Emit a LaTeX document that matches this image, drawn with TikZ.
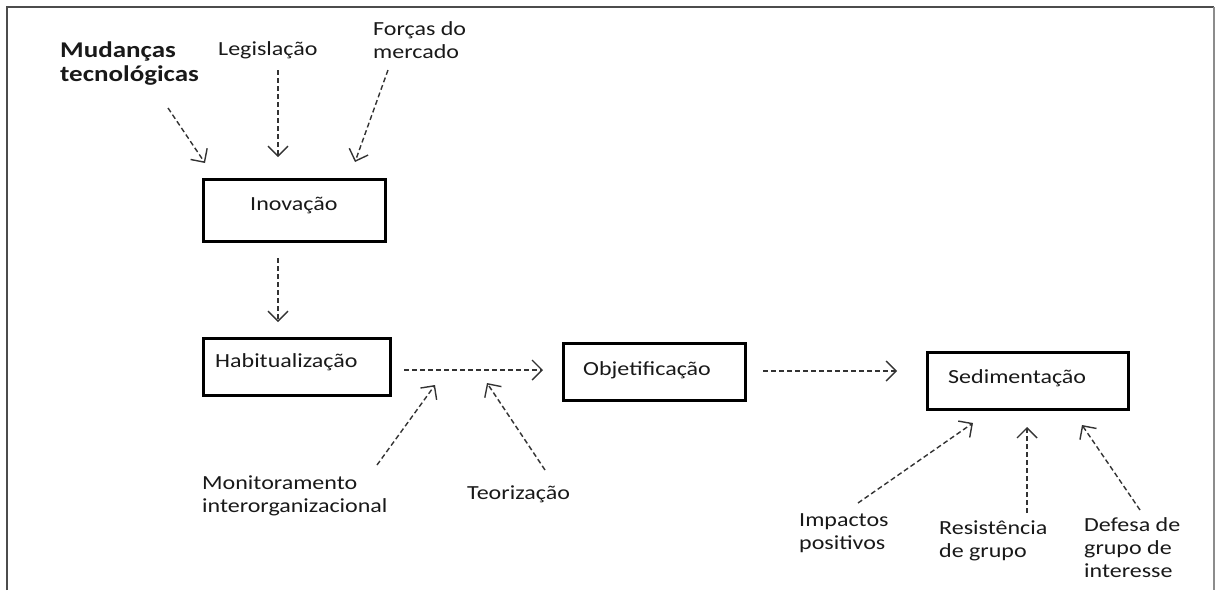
\documentclass[tikz,border=0pt]{standalone}
\usepackage{fontspec}
\setmainfont{Carlito}[FakeStretch=1.2]
\usetikzlibrary{arrows.meta}
\begin{document}
\begin{tikzpicture}[x=1pt,y=-1pt,
  box/.style={draw=black, line width=3pt, inner sep=0pt},
  lbl/.style={anchor=base west, inner sep=0pt, text=black!90, align=left,
              font=\fontsize{20}{23}\selectfont},
  biglbl/.style={anchor=base west, inner sep=0pt, text=black!90, align=left,
              font=\fontsize{22.5}{24}\selectfont\bfseries},
  flow/.style={draw=black!80, line width=1.4pt, dash pattern=on 5pt off 3pt,
              -{Straight Barb[length=10pt,width=20pt,line width=1.4pt]}}
]
\useasboundingbox (0,0) rectangle (1216,590);
% frame
\draw[black!70, line width=1.6pt] (7,590) -- (7,7) -- (1214,7);
\draw[black!45, line width=1.2pt] (1214,7) -- (1214,590);

% boxes
\node[box, minimum width=182, minimum height=62] (inov) at (294,210) {};
\node[box, minimum width=187, minimum height=57] (hab) at (296.5,366.5) {};
\node[box, minimum width=182, minimum height=57] (obj) at (654,371.5) {};
\node[box, minimum width=201, minimum height=57] (sed) at (1027.5,380.5) {};

% box texts
\node[lbl] (inovT) at (250,210) {Inovação};
\node[lbl] (habT) at (215,367) {Habitualização};
\node[lbl] (objT) at (583,375) {Objetificação};
\node[lbl] (sedT) at (948,383) {Sedimentação};

% outer labels (base = baseline of last line)
\node[biglbl] (mud) at (60,81) {Mudanças\\tecnológicas};
\node[lbl] (leg) at (218,55) {Legislação};
\node[lbl] (forc) at (373,58) {Forças do\\mercado};
\node[lbl] (mon) at (202,512) {Monitoramento\\interorganizacional};
\node[lbl] (teo) at (467,499) {Teorização};
\node[lbl] (imp) at (799,549) {Impactos\\positivos};
\node[lbl] (res) at (939,557) {Resistência\\de grupo};
\node[lbl] (def) at (1084,577) {Defesa de\\grupo de\\interesse};

% arrow end points
\coordinate (mudS) at (168,108);  \coordinate (mudE) at (205,163);
\coordinate (legS) at (278,70);   \coordinate (legE) at (278,157);
\coordinate (forS) at (388,70);   \coordinate (forE) at (355,162);
\coordinate (ihS) at (278,258);   \coordinate (ihE) at (278,322);
\coordinate (hoS) at (404,370);   \coordinate (hoE) at (543,370);
\coordinate (monS) at (377,465);  \coordinate (monE) at (435,385);
\coordinate (teoS) at (545,470);  \coordinate (teoE) at (487,383);
\coordinate (osS) at (763,371);   \coordinate (osE) at (897,371);
\coordinate (impS) at (858,503);  \coordinate (impE) at (973,423);
\coordinate (resS) at (1027,513); \coordinate (resE) at (1027,427);
\coordinate (defS) at (1140,510); \coordinate (defE) at (1082,425);

\draw[flow] (mudS) -- (mudE);
\draw[flow] (legS) -- (legE);
\draw[flow] (forS) -- (forE);
\draw[flow] (ihS) -- (ihE);
\draw[flow] (hoS) -- (hoE);
\draw[flow] (monS) -- (monE);
\draw[flow] (teoS) -- (teoE);
\draw[flow] (osS) -- (osE);
\draw[flow] (impS) -- (impE);
\draw[flow] (resS) -- (resE);
\draw[flow] (defS) -- (defE);
\end{tikzpicture}
\end{document}
